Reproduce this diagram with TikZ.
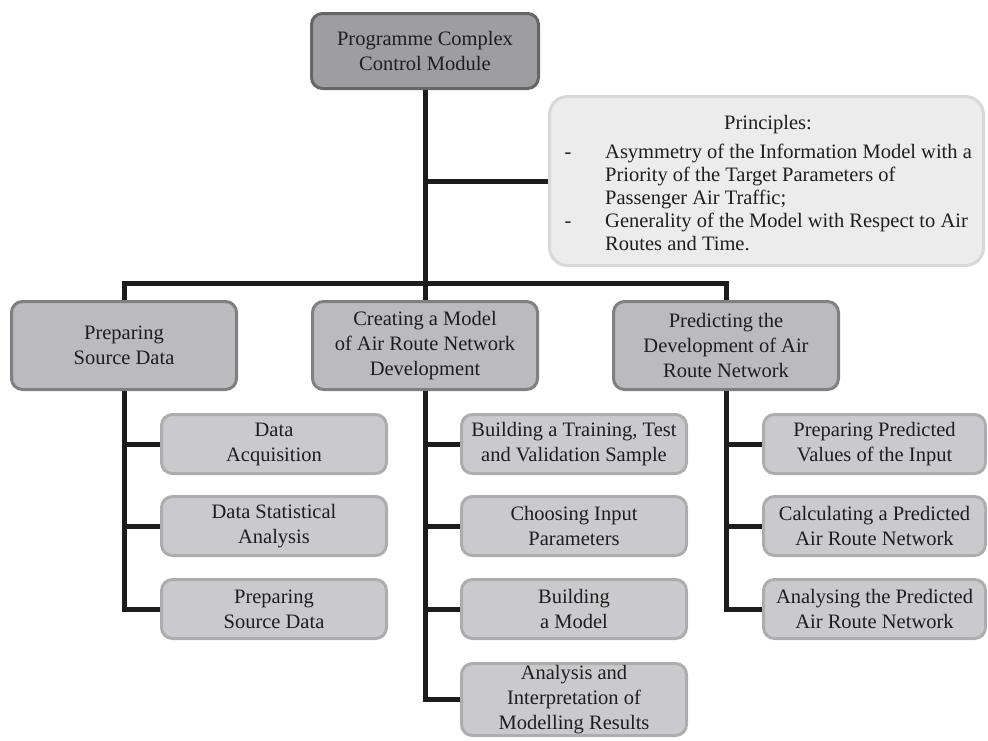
\documentclass[tikz,border=0pt]{standalone}
\usepackage{fontspec}
\setmainfont{Liberation Serif}
\definecolor{topfill}{HTML}{9E9EA2}
\definecolor{topdraw}{HTML}{666668}
\definecolor{midfill}{HTML}{BBBBBF}
\definecolor{middraw}{HTML}{808082}
\definecolor{subfill}{HTML}{CACACC}
\definecolor{subdraw}{HTML}{ADADAF}
\definecolor{prinfill}{HTML}{ECECEC}
\definecolor{prindraw}{HTML}{D8D8D8}
\definecolor{linecol}{HTML}{1C1C1C}
\definecolor{txt}{HTML}{1E1E1E}
\begin{document}
\begin{tikzpicture}[x=1pt,y=-1pt,
  box/.style={rounded corners=11pt, line width=3pt, align=center, inner sep=0pt,
    font=\fontsize{20.5}{25}\selectfont, text=txt},
  topbox/.style={box, fill=topfill, draw=topdraw, minimum width=227pt, minimum height=75pt},
  midbox/.style={box, fill=midfill, draw=middraw, minimum width=225pt, minimum height=88pt},
  subbox/.style={box, fill=subfill, draw=subdraw, minimum width=225pt, minimum height=59pt},
  prinbox/.style={rounded corners=18pt, line width=3pt, fill=prinfill, draw=prindraw,
    minimum width=434pt, minimum height=169pt, inner sep=0pt},
  ptext/.style={anchor=base west, inner sep=0pt, font=\fontsize{20.5}{23}\selectfont, text=txt},
  conn/.style={draw=linecol, line width=5pt, line join=miter}
]
\useasboundingbox (0,0) rectangle (988,740);

% boxes
\node[topbox] (top) at (425,51) {Programme Complex\\Control Module};
\node[prinbox] (prin) at (766.5,181) {};
\node[ptext, anchor=base] (ptitle) at (768,129) {Principles:};
\node[ptext, anchor=base] (dash1) at (568,158) {-};
\node[ptext] (p1) at (605,158) {Asymmetry of the Information Model with a};
\node[ptext] (p2) at (605,181) {Priority of the Target Parameters of};
\node[ptext] (p3) at (605,204) {Passenger Air Traffic;};
\node[ptext, anchor=base] (dash2) at (568,227) {-};
\node[ptext] (p4) at (605,227) {Generality of the Model with Respect to Air};
\node[ptext] (p5) at (605,250) {Routes and Time.};

\node[midbox] (L1) at (124,345.5) {Preparing\\Source Data};
\node[midbox] (L2) at (425,345.5) {Creating a Model\\of Air Route Network\\Development};
\node[midbox] (L3) at (726,345.5) {Predicting the\\Development of Air\\Route Network};

\node[subbox] (a1) at (274,444) {Data\\Acquisition};
\node[subbox] (a2) at (274,526) {Data Statistical\\Analysis};
\node[subbox] (a3) at (274,609) {Preparing\\Source Data};

\node[subbox] (b1) at (574,444) {Building a Training, Test\\and Validation Sample};
\node[subbox] (b2) at (574,526) {Choosing Input\\Parameters};
\node[subbox] (b3) at (574,609) {Building\\a Model};
\node[subbox, minimum height=72pt] (b4) at (574,699.5) {Analysis and\\Interpretation of\\Modelling Results};

\node[subbox, minimum width=222pt] (c1) at (874.5,444) {Preparing Predicted\\Values of the Input};
\node[subbox, minimum width=222pt] (c2) at (874.5,526) {Calculating a Predicted\\Air Route Network};
\node[subbox, minimum width=222pt] (c3) at (874.5,609) {Analysing the Predicted\\Air Route Network};

% connectors
\coordinate (bar) at (425,283);
\draw[conn] (top.south) -- (L2.north);
\draw[conn] (top.south |- prin.west) -- (prin.west);
\draw[conn] (L1.north) |- (bar) -| (L3.north);

\draw[conn] (L1.south) |- (a3.west);
\draw[conn] (L1.south |- a1.west) -- (a1.west);
\draw[conn] (L1.south |- a2.west) -- (a2.west);

\draw[conn] (L2.south) |- (b4.west);
\draw[conn] (L2.south |- b1.west) -- (b1.west);
\draw[conn] (L2.south |- b2.west) -- (b2.west);
\draw[conn] (L2.south |- b3.west) -- (b3.west);

\draw[conn] (L3.south) |- (c3.west);
\draw[conn] (L3.south |- c1.west) -- (c1.west);
\draw[conn] (L3.south |- c2.west) -- (c2.west);
\end{tikzpicture}
\end{document}
